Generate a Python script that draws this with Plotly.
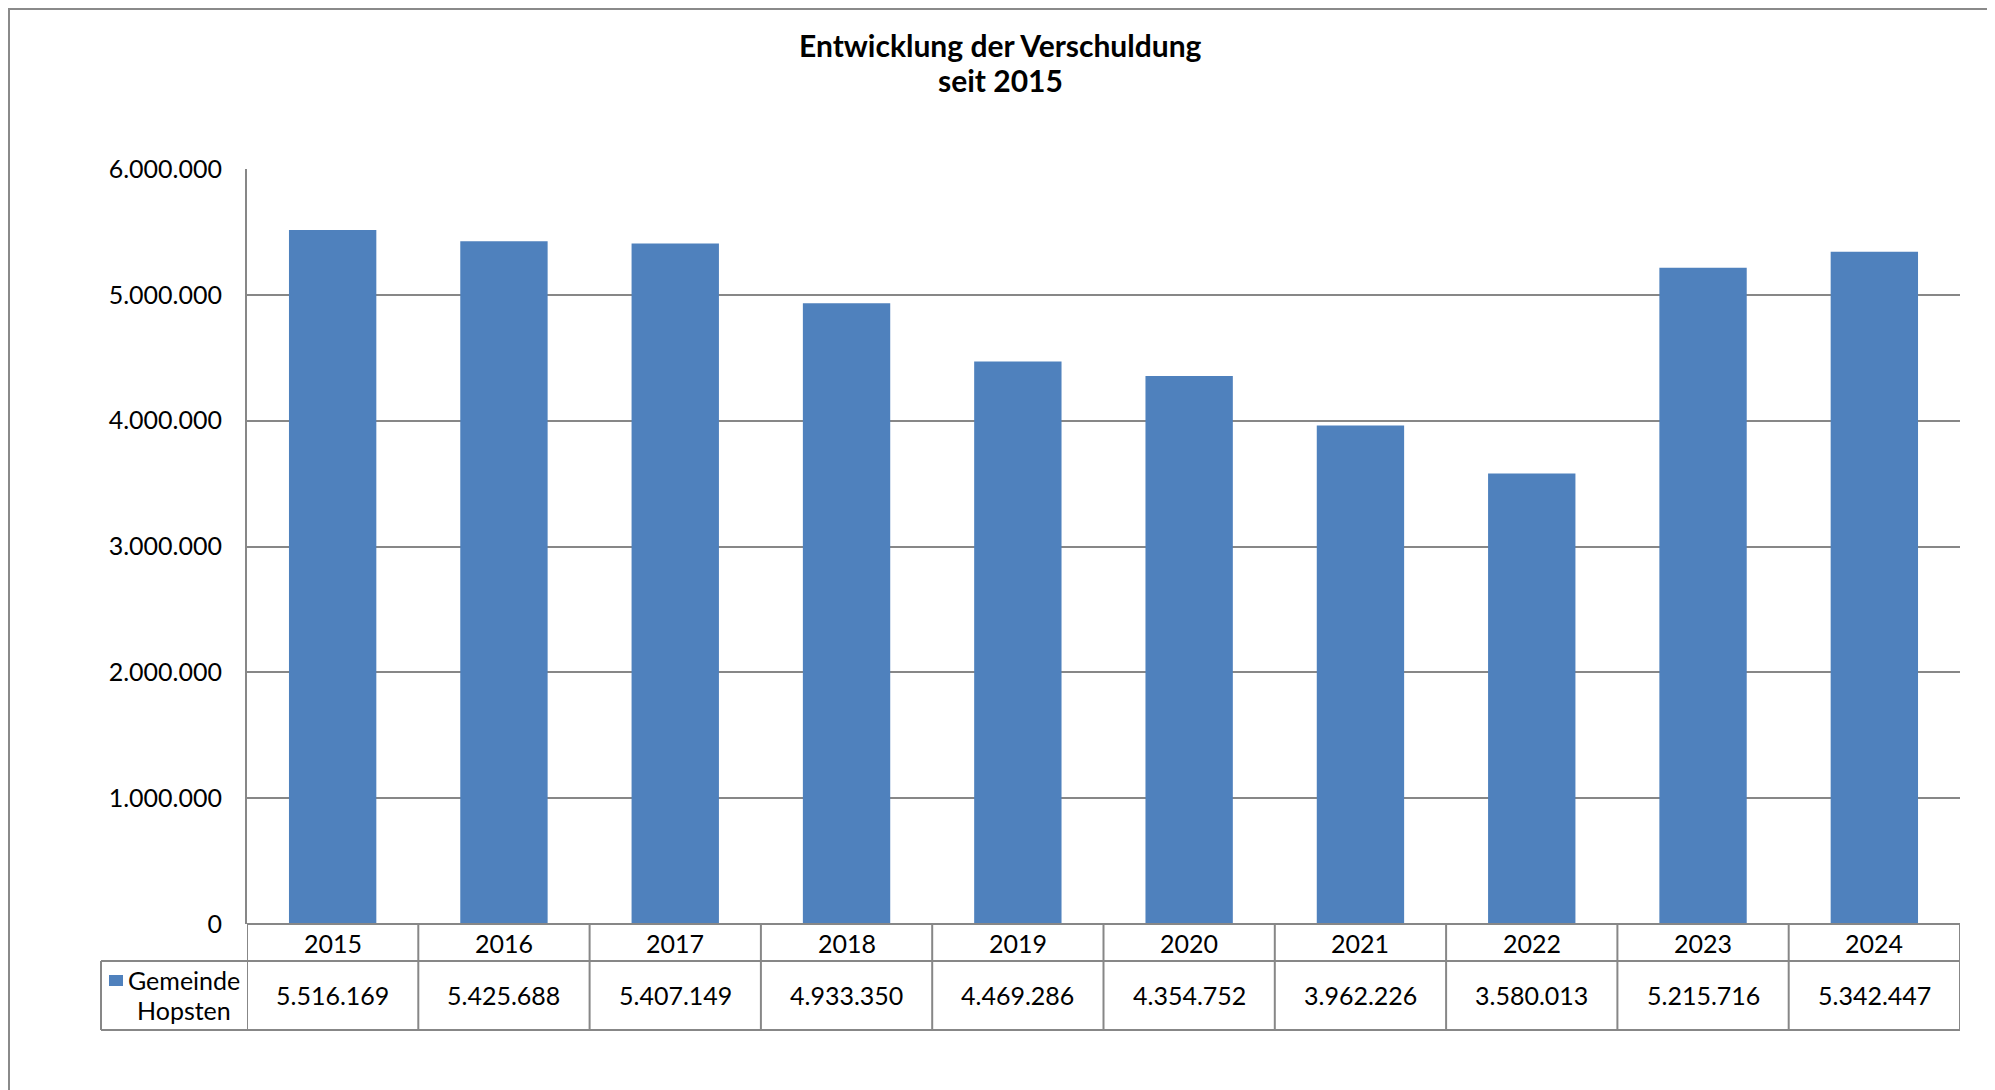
import plotly.graph_objects as go

# ---- data ----
categories = ["2015", "2016", "2017", "2018", "2019", "2020", "2021", "2022", "2023", "2024"]
values = [5516169, 5425688, 5407149, 4933350, 4469286, 4354752, 3962226, 3580013, 5215716, 5342447]
series_lines = ["Gemeinde", "Hopsten"]
title_lines = ["Entwicklung der Verschuldung", "seit 2015"]
y_ticks = [0, 1000000, 2000000, 3000000, 4000000, 5000000, 6000000]

W, H = 1995, 1090
OFF = 8  # page body margin offset of the figure in the screenshot


def px(x):
    return (x - OFF) / W


def py(y):
    return 1 - (y - OFF) / H


BLUE = "#4F81BD"
GRID = "#878787"
FONT = "Lato"
FS = 25

# plot-area geometry (screen pixels)
PL, PR = 247, 1960
PT, PB = 169, 924
ROW1_B = 961
ROW2_B = 1030
LEG_L = 101


def de(v):
    return f"{v:,}".replace(",", ".")


fig = go.Figure()
fig.add_trace(go.Bar(x=categories, y=values, marker=dict(color=BLUE, line=dict(width=0)),
                     showlegend=False, hoverinfo="x+y"))

shapes = []
annotations = []

# outer chart border
shapes.append(dict(type="rect", xref="paper", yref="paper",
                   x0=px(9), x1=px(1992), y0=py(1100), y1=py(9),
                   line=dict(color="#8a8a8a", width=2), fillcolor="rgba(0,0,0,0)", layer="below"))

tline = dict(color=GRID, width=2)
# horizontal table lines
shapes.append(dict(type="line", xref="paper", yref="paper", x0=px(LEG_L), x1=px(PR), y0=py(ROW1_B), y1=py(ROW1_B), line=tline))
shapes.append(dict(type="line", xref="paper", yref="paper", x0=px(LEG_L), x1=px(PR), y0=py(ROW2_B), y1=py(ROW2_B), line=tline))
shapes.append(dict(type="line", xref="paper", yref="paper", x0=px(PL), x1=px(PR), y0=py(PB), y1=py(PB), line=tline))
# legend cell left edge
shapes.append(dict(type="line", xref="paper", yref="paper", x0=px(LEG_L), x1=px(LEG_L), y0=py(ROW1_B), y1=py(ROW2_B), line=tline))
# vertical category separators
for i in range(len(categories) + 1):
    xv = i - 0.5
    shapes.append(dict(type="line", xref="x", yref="paper", x0=xv, x1=xv, y0=py(ROW2_B), y1=py(PB), line=tline))

# legend marker square
shapes.append(dict(type="rect", xref="paper", yref="paper", x0=px(109), x1=px(123), y0=py(986), y1=py(975),
                   fillcolor=BLUE, line=dict(width=0)))

txt_font = dict(family=FONT, size=FS, color="#000")
# table texts
for i, (c, v) in enumerate(zip(categories, values)):
    annotations.append(dict(x=i, xref="x", y=py(942.5), yref="paper", text=c, showarrow=False,
                            xanchor="center", yanchor="middle", font=txt_font))
    annotations.append(dict(x=i, xref="x", y=py(994.5), yref="paper", text=de(v), showarrow=False,
                            xanchor="center", yanchor="middle", font=txt_font))
for line, yc in zip(series_lines, [980, 1010]):
    annotations.append(dict(x=px(184), xref="paper", y=py(yc), yref="paper", text=line, showarrow=False,
                            xanchor="center", yanchor="middle", font=txt_font))

# title (two lines)
for line, yc in zip(title_lines, [45, 80]):
    annotations.append(dict(x=px(1000), xref="paper", y=py(yc), yref="paper", text="<b>" + line + "</b>",
                            showarrow=False, xanchor="center", yanchor="middle",
                            font=dict(family=FONT, size=30, color="#000")))

fig.update_layout(
    width=W, height=H, autosize=False,
    margin=dict(l=0, r=0, t=0, b=0, pad=0),
    paper_bgcolor="white", plot_bgcolor="white",
    separators=",.",
    bargap=0.49,
    font=dict(family=FONT, size=FS, color="#000"),
    xaxis=dict(type="category", domain=[px(PL), px(PR)], range=[-0.5, len(categories) - 0.5],
               showticklabels=False, showgrid=False, zeroline=False, showline=False, ticks="",
               automargin=False),
    yaxis=dict(domain=[py(PB), py(PT)], range=[0, 6000000], tickvals=y_ticks, tickformat=",d",
               showgrid=True, gridcolor=GRID, gridwidth=1.5, zeroline=False,
               showline=True, linecolor=GRID, linewidth=2, ticks="", ticklabelstandoff=18,
               tickfont=txt_font, automargin=False),
    shapes=shapes,
    annotations=annotations,
)

fig.write_html("out.html")
